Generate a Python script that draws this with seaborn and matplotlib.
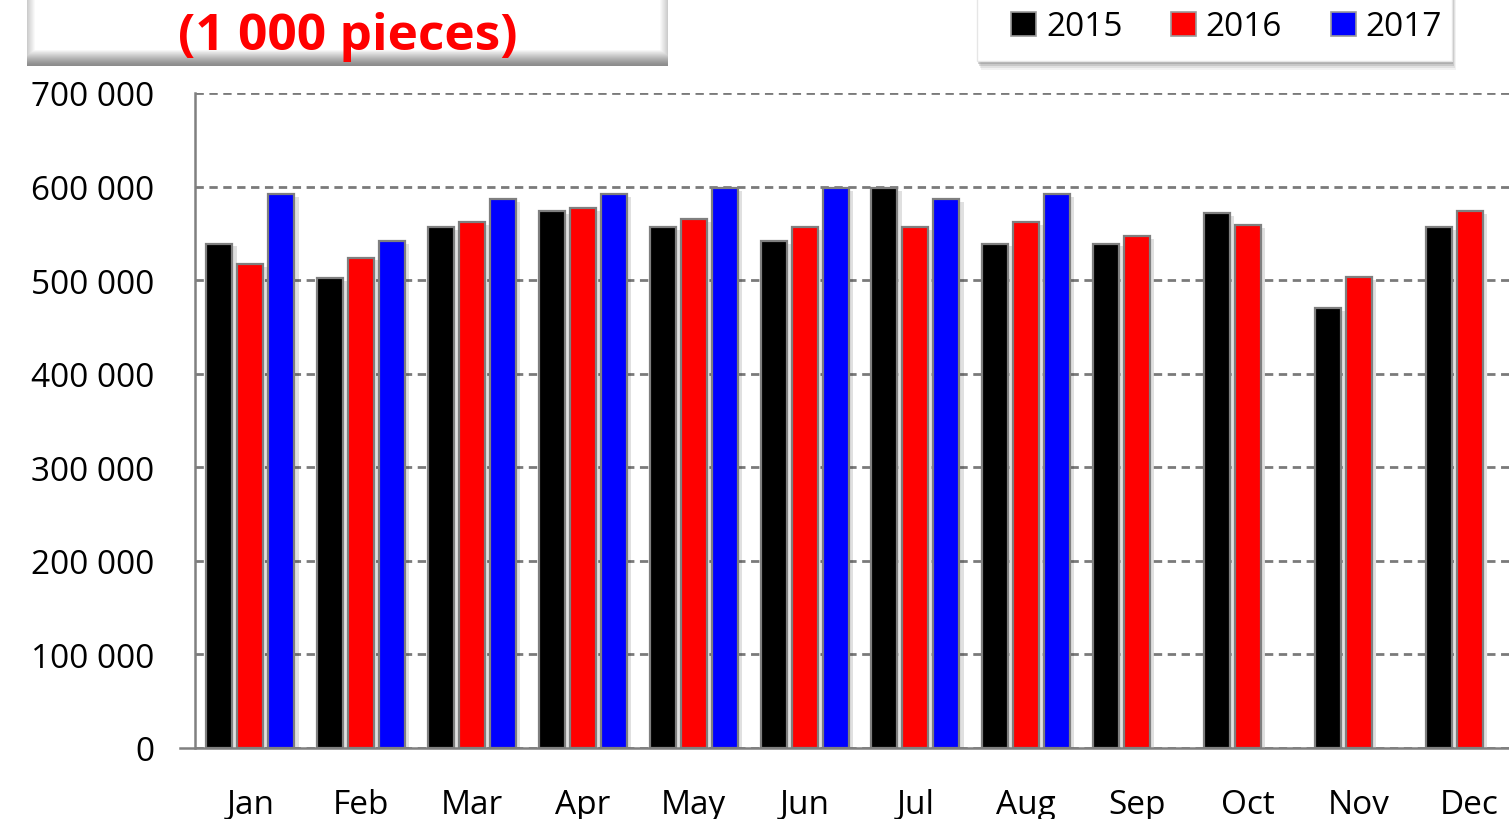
import numpy as np
import pandas as pd
import matplotlib
matplotlib.use("Agg")
import matplotlib.pyplot as plt
import matplotlib.patheffects as pe
from matplotlib.patches import Patch, Rectangle
from matplotlib.ticker import FuncFormatter
import seaborn as sns

months = ["Jan", "Feb", "Mar", "Apr", "May", "Jun", "Jul", "Aug", "Sep", "Oct", "Nov", "Dec"]
years = ["2015", "2016", "2017"]
v2015 = [539000, 502000, 557000, 574000, 557000, 542000, 598000, 539000, 539000, 572000, 470000, 557000]
v2016 = [517000, 524000, 562000, 577000, 565000, 557000, 557000, 562000, 547000, 559000, 503000, 574000]
v2017 = [592000, 542000, 587000, 592000, 598000, 598000, 587000, 592000, np.nan, np.nan, np.nan, np.nan]
yticks = [0, 100000, 200000, 300000, 400000, 500000, 600000, 700000]
title_text = "(1 000 pieces)"
colors = ["#000000", "#ff0000", "#0000ff"]

df = pd.DataFrame({
    "month": months * 3,
    "year": [years[0]] * 12 + [years[1]] * 12 + [years[2]] * 12,
    "value": v2015 + v2016 + v2017,
})

sns.set_theme(style="white")
plt.rcParams["font.family"] = ["Open Sans", "DejaVu Sans"]

W, H = 1509, 820
fig = plt.figure(figsize=(W / 100, H / 100), dpi=100)
ax = fig.add_axes([195 / W, 1 - 749 / H, 1330 / W, (749 - 94) / H])

sns.barplot(data=df, x="month", y="value", hue="year", order=months,
            hue_order=years, palette=colors, saturation=1, width=0.84, gap=0.16,
            edgecolor="#7f7f7f", linewidth=1.6, ax=ax, legend=False, errorbar=None)
for p in ax.patches:
    p.set_path_effects([pe.SimplePatchShadow(offset=(3, -2), shadow_rgbFace="#000000", alpha=0.12), pe.Normal()])

ax.set_xlim(-0.5, 11.5)
ax.set_ylim(0, 700000)
ax.set_yticks(yticks)
ax.yaxis.set_major_formatter(FuncFormatter(lambda v, _: f"{int(v):,}".replace(",", " ")))
ax.set_xlabel("")
ax.set_ylabel("")
ax.grid(axis="y", color="#7a7a7a", linestyle=(0, (3.0, 2.0)), linewidth=2.0)
ax.set_axisbelow(True)
for s in ["top", "right"]:
    ax.spines[s].set_visible(False)
for s in ["left", "bottom"]:
    ax.spines[s].set_color("#808080")
    ax.spines[s].set_linewidth(1.8)
ax.tick_params(axis="y", direction="out", length=11, width=1.6, color="#808080",
               labelsize=24, pad=18, labelcolor="black")
ax.tick_params(axis="x", length=0, labelsize=24, pad=29, labelcolor="black")
ax.spines["bottom"].set_bounds(-0.5 - 15 / 110.8, 11.5)
ax.spines["bottom"].set_clip_on(False)

# title box with gradient
tax = fig.add_axes([27 / W, 1 - 67 / H, 641 / W, 67 / H])
hgt = 67
col = np.ones((hgt, 1))
for i in range(hgt):
    d = hgt - 1 - i
    if d < 16:
        col[i, 0] = 0.55 + 0.45 * (d / 16) ** 1.3
gradh = np.tile(col, (1, 641))
xs = np.arange(641)
edge = np.minimum(xs, 640 - xs)
fade = np.where(edge < 8, 0.8 + 0.2 * edge / 8, 1.0)
img = np.minimum(gradh, fade[None, :])
tax.imshow(img, cmap="gray", vmin=0, vmax=1, aspect="auto", extent=(0, 1, 0, 1))
tax.set_axis_off()
tax.text(0.5, 0.45, title_text, color="#ff0000", fontsize=37, fontweight="bold",
         ha="center", va="center", transform=tax.transAxes)

# legend box (white panel with soft shadow)
for k, a in [(9, 0.10), (7, 0.15), (5, 0.25), (3, 0.35)]:
    fig.patches.append(Rectangle(((977 + k * 0.4) / W, 1 - (62 + k) / H), 475 / W, (62 + k) / H,
                                 transform=fig.transFigure, facecolor="#808080", alpha=a,
                                 edgecolor="none", zorder=1))
fig.patches.append(Rectangle((977 / W, 1 - 62 / H), 475 / W, 70 / H, transform=fig.transFigure,
                             facecolor="white", edgecolor="#e6e6e6", linewidth=1, zorder=2))

handles = [Patch(facecolor=c, edgecolor="#9a9a9a", linewidth=1.2) for c in colors]
leg = fig.legend(handles, years, loc="center left", bbox_to_anchor=(1011 / W, 1 - 28 / H),
                 ncol=3, fontsize=24, frameon=False, borderpad=0, borderaxespad=0,
                 handlelength=0.75, handleheight=0.75, handletextpad=0.3, columnspacing=1.45,
                 labelcolor="black")
leg.set_zorder(5)

fig.savefig("out.png", dpi=100)
